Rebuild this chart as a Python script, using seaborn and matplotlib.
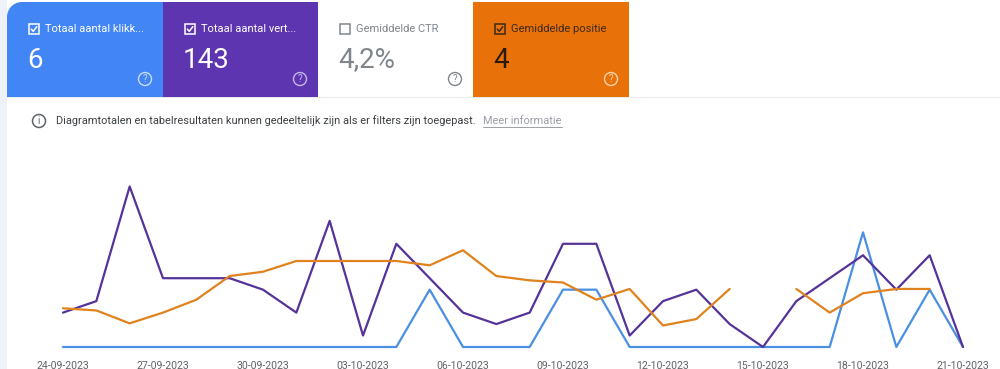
import pandas as pd
import numpy as np
import matplotlib.pyplot as plt
import seaborn as sns
from matplotlib.patches import Rectangle, Circle

# ──────────────────────────────────────────
# DATA
# ──────────────────────────────────────────
dates = pd.date_range("2023-09-24", "2023-10-21", freq="D")

clicks = [0, 0, 0, 0, 0, 0, 0, 0, 0, 0, 0, 1, 0, 0,
          0, 1, 1, 0, 0, 0, 0, 0, 0, 0, 2, 0, 1, 0]
impressions = [3, 4, 14, 6, 6, 6, 5, 3, 11, 1, 9, 6, 3, 2,
               3, 9, 9, 1, 4, 5, 2, 0, 4, 6, 8, 5, 8, 0]
position = [6.2, 6.3, 6.9, 6.4, 5.8, 4.7, 4.5, 4.0, 4.0, 4.0, 4.0, 4.2, 3.5, 4.7,
            4.9, 5.0, 5.8, 5.3, 7.0, 6.7, 5.3, np.nan, 5.3, 6.4, 5.5, 5.3, 5.3, np.nan]

card_labels = ["Totaal aantal klikk...", "Totaal aantal vert...", "Gemiddelde CTR", "Gemiddelde positie"]
card_values = ["6", "143", "4,2%", "4"]
card_checked = [True, True, False, True]

info_text = "Diagramtotalen en tabelresultaten kunnen gedeeltelijk zijn als er filters zijn toegepast."
info_link = "Meer informatie"

BLUE = "#4285f4"
PURPLE = "#5e35b1"
ORANGE = "#e8710a"

df = pd.DataFrame({"date": dates, "clicks": clicks, "impressions": impressions, "position": position})
df["day"] = np.arange(len(df))
# position line breaks where there are no impressions
df["segment"] = df["position"].isna().cumsum()

# ──────────────────────────────────────────
# FIGURE
# ──────────────────────────────────────────
sns.set_theme(style="white")
plt.rcParams["font.family"] = ["Roboto", "DejaVu Sans"]

fig = plt.figure(figsize=(10, 3.69), dpi=100)
fig.patch.set_facecolor("white")

# background axes in pixel coordinates (for the cards / info line)
bg = fig.add_axes([0, 0, 1, 1], zorder=0)
bg.set_xlim(0, 1000)
bg.set_ylim(369, 0)
bg.axis("off")

bg.add_patch(Rectangle((0, 0), 7, 369, color="#eef3fb", lw=0))
bg.add_patch(Rectangle((7, 97), 993, 1, color="#e8eaed", lw=0))

card_x = [7, 163, 318, 473, 629]
card_fill = [BLUE, PURPLE, "white", ORANGE]
label_col = ["white", "white", "#80868b", "#3c2a1a"]
value_col = ["white", "white", "#80868b", "#2a1a0a"]
help_col = ["#c6dafc", "#c5b6e8", "#80868b", "#fbd3a8"]

for i in range(4):
    x0, x1 = card_x[i], card_x[i + 1]
    if i == 0:
        r = 15
        bg.add_patch(Rectangle((x0, 2 + r), x1 - x0, 95 - r, color=card_fill[i], lw=0))
        bg.add_patch(Rectangle((x0 + r, 2), x1 - x0 - r, r, color=card_fill[i], lw=0))
        bg.add_patch(Circle((x0 + r, 2 + r), r, color=card_fill[i], lw=0))
    else:
        bg.add_patch(Rectangle((x0, 2), x1 - x0, 95, color=card_fill[i], lw=0))

    # checkbox
    cx = x0 + 22
    bg.add_patch(Rectangle((cx, 24), 10, 10, fill=False, ec=label_col[i], lw=1.1))
    if card_checked[i]:
        bg.plot([cx + 2.3, cx + 4.3, cx + 7.8], [29.2, 31.3, 26.7], color=label_col[i], lw=1.1)
    bg.text(cx + 16, 29.5, card_labels[i], color=label_col[i], fontsize=8,
            va="center", ha="left")
    bg.text(x0 + 20, 60, card_values[i], color=value_col[i], fontsize=20,
            va="center", ha="left")
    # help icon
    hx = x1 - 18
    bg.add_patch(Circle((hx, 79), 6.5, fill=False, ec=help_col[i], lw=1.0))
    bg.text(hx, 79.5, "?", color=help_col[i], fontsize=7,
            ha="center", va="center")

# info line
bg.add_patch(Circle((39, 121), 6.5, fill=False, ec="#5f6368", lw=1.1))
bg.text(39, 121.5, "i", color="#5f6368", fontsize=7, ha="center", va="center")
bg.text(56, 121, info_text, color="#3c4043", fontsize=7.9, ha="left", va="center")
bg.text(483, 121, info_link, color="#9aa0a6", fontsize=7.9, ha="left", va="center")
bg.plot([483, 562], [127, 127], color="#9aa0a6", lw=0.7)

# ──────────────────────────────────────────
# CHART
# ──────────────────────────────────────────
ax_i = fig.add_axes([63 / 1000, 22 / 369, 900 / 1000, 172 / 369], zorder=2)
ax_c = ax_i.twinx()
ax_p = ax_i.twinx()

sns.lineplot(data=df, x="day", y="impressions", ax=ax_i, color="#553399", lw=1.6)
sns.lineplot(data=df, x="day", y="clicks", ax=ax_c, color="#4a8fe2", lw=1.6)
sns.lineplot(data=df.dropna(), x="day", y="position", units="segment", estimator=None,
             ax=ax_p, color="#e0821e", lw=1.6)

ax_i.set_ylim(0, 15)
ax_c.set_ylim(0, 3)
ax_p.set_ylim(8, 0)

for a in (ax_i, ax_c, ax_p):
    a.set_xlim(0, 27)
    a.patch.set_alpha(0)
    for s in a.spines.values():
        s.set_visible(False)
    a.set_yticks([])
    a.set_ylabel("")
    a.set_xlabel("")
    for ln in a.get_lines():
        ln.set_clip_on(False)

ax_c.set_zorder(3)
ax_i.set_zorder(4)
ax_p.set_zorder(5)

# x axis is shared: ticks set once, labels shown on the bottom-most axes only
ax_i.set_xticks(df["day"][::3])
ax_i.set_xticklabels(df["date"][::3].dt.strftime("%d-%m-%Y"))
ax_i.tick_params(axis="x", length=0, pad=10, labelsize=7.6, labelcolor="#5f6368")
for a in (ax_c, ax_p):
    a.tick_params(axis="x", length=0, labelbottom=False)

fig.savefig("out.png", dpi=100)
